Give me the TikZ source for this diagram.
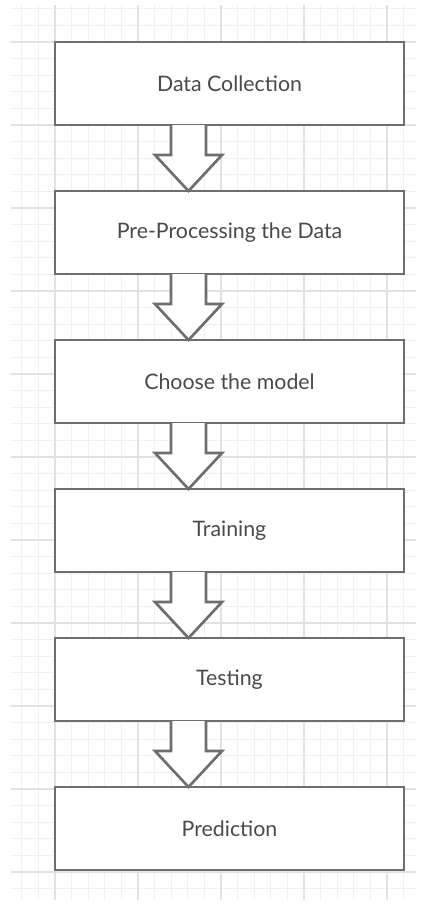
\documentclass[tikz,border=0pt]{standalone}
\usepackage{fontspec}
\setmainfont{Lato}
\usetikzlibrary{positioning,calc}

\definecolor{boxgray}{HTML}{6E6E6E}
\definecolor{textgray}{HTML}{4A4A4A}
\definecolor{gridminor}{HTML}{F1F1F1}
\definecolor{gridmajor}{HTML}{E2E2E2}

\tikzset{
  stage/.style={draw=boxgray, line width=2.2pt, fill=white, text=textgray,
    minimum width=261.75pt, minimum height=62.25pt, inner sep=0pt,
    outer sep=0pt, font=\fontsize{16}{19}\selectfont},
  flowarrow/.style={draw=boxgray, line width=2pt, fill=white, line join=miter}
}

\begin{document}
\begin{tikzpicture}[x=0.75pt,y=-0.75pt]

    % --- 1. Page and background grid ---
    \useasboundingbox (0,0) rectangle (421,904);
    \fill[white] (0,0) rectangle (421,904);
    \begin{scope}[shift={(55,42)}]
      \draw[gridminor, line width=0.6pt, step=12.45pt] (-44,-37) grid (361,858);
      \draw[gridmajor, line width=0.8pt, step=62.25pt] (-44,-37) grid (361,858);
    \end{scope}

    % --- 2. Process stages (stacked top to bottom) ---
    \node[stage] (collect) at (229.5,83.5) {Data Collection};
    \node[stage, below=49.5pt of collect] (preproc) {Pre-Processing the Data};
    \node[stage, below=49.5pt of preproc] (model) {Choose the model};
    \node[stage, below=49.5pt of model] (train) {Training};
    \node[stage, below=49.5pt of train] (test) {Testing};
    \node[stage, below=49.5pt of test] (predict) {Prediction};

    % --- 3. Block arrows between stages ---
    % Shaft hangs from the upper box, tip touches the lower box
    \foreach \a/\b in {collect/preproc, preproc/model, model/train,
                       train/test, test/predict}{
      \draw[flowarrow] ($(\a.south)+(-58.5,0)$) -- ++(0,30) -- ++(-16,0)
        -- ($(\b.north)+(-41,0)$) -- ($(\a.south)+(-7.5,30)$) -- ++(-16,0)
        -- ($(\a.south)+(-23.5,0)$);
    }

\end{tikzpicture}
\end{document}
